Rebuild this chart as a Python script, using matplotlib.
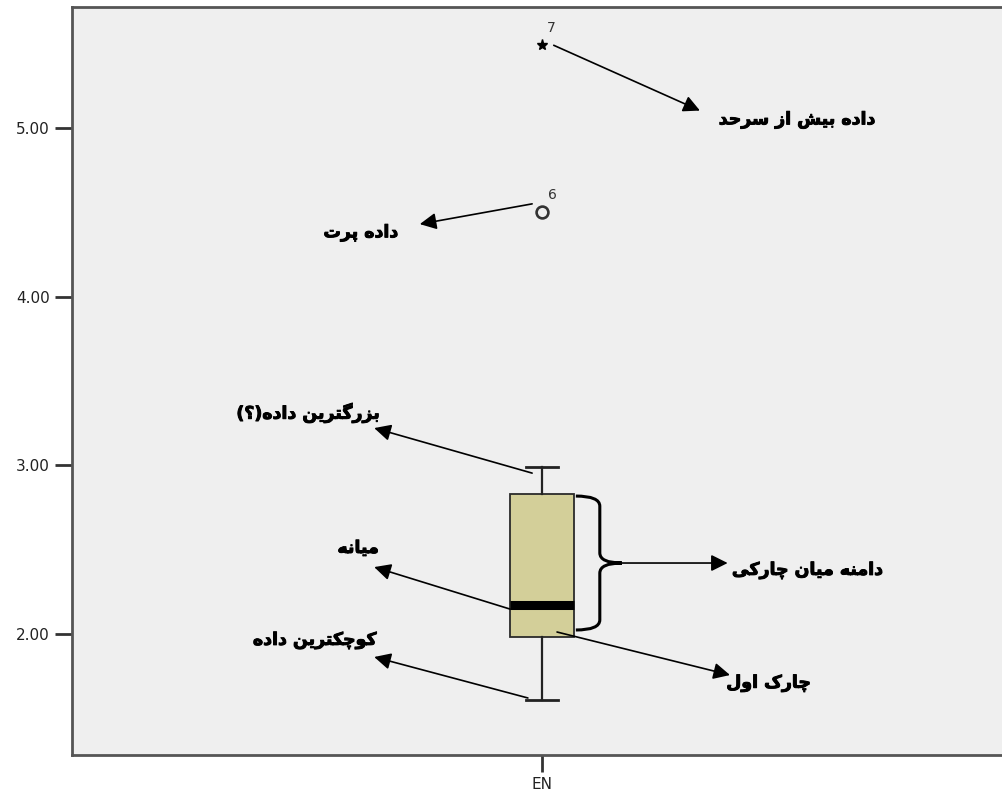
import matplotlib
matplotlib.use("Agg")
import matplotlib.pyplot as plt
import matplotlib.patheffects as pe
from matplotlib.path import Path
from matplotlib.patches import PathPatch

# values
categories = ["EN"]
q1 = [1.98]
median = [2.17]
q3 = [2.83]
whisker_low = [1.61]
whisker_high = [2.99]
outlier_values = [4.50]
outlier_ids = ["6"]
extreme_values = [5.49]
extreme_ids = ["7"]
y_ticks = [2.0, 3.0, 4.0, 5.0]

label_extreme = "داده بیش از سرحد"
label_outlier = "داده پرت"
label_max = "بزرگترین داده(؟)"
label_median = "میانه"
label_min = "کوچکترین داده"
label_iqr = "دامنه میان چارکی"
label_q1 = "چارک اول"

# matplotlib has no arabic shaping, so pick presentation forms by hand
FORMS = {
    "ا": ("\uFE8D", "\uFE8E"),
    "د": ("\uFEA9", "\uFEAA"),
    "ر": ("\uFEAD", "\uFEAE"),
    "ز": ("\uFEAF", "\uFEB0"),
    "و": ("\uFEED", "\uFEEE"),
    "ب": ("\uFE8F", "\uFE90", "\uFE91", "\uFE92"),
    "پ": ("\uFB56", "\uFB57", "\uFB58", "\uFB59"),
    "ت": ("\uFE95", "\uFE96", "\uFE97", "\uFE98"),
    "چ": ("\uFB7A", "\uFB7B", "\uFB7C", "\uFB7D"),
    "ح": ("\uFEA1", "\uFEA2", "\uFEA3", "\uFEA4"),
    "س": ("\uFEB1", "\uFEB2", "\uFEB3", "\uFEB4"),
    "ش": ("\uFEB5", "\uFEB6", "\uFEB7", "\uFEB8"),
    "ک": ("\uFB8E", "\uFB8F", "\uFB90", "\uFB91"),
    "گ": ("\uFB92", "\uFB93", "\uFB94", "\uFB95"),
    "ل": ("\uFEDD", "\uFEDE", "\uFEDF", "\uFEE0"),
    "م": ("\uFEE1", "\uFEE2", "\uFEE3", "\uFEE4"),
    "ن": ("\uFEE5", "\uFEE6", "\uFEE7", "\uFEE8"),
    "ه": ("\uFEE9", "\uFEEA", "\uFEEB", "\uFEEC"),
    "ی": ("\uFBFC", "\uFBFD", "\uFBFE", "\uFBFF"),
}


def fa(s):
    s = s.replace("\u064A", "\u06CC").replace("\u0643", "\u06A9")
    out = []
    for i, c in enumerate(s):
        if c not in FORMS:
            out.append(c)
            continue
        f = FORMS[c]
        prev = s[i - 1] if i > 0 else ""
        nxt = s[i + 1] if i + 1 < len(s) else ""
        jp = prev in FORMS and len(FORMS[prev]) == 4
        jn = len(f) == 4 and nxt in FORMS
        if jp and jn:
            out.append(f[3])
        elif jp:
            out.append(f[1])
        elif jn:
            out.append(f[2])
        else:
            out.append(f[0])
    vis = "".join(reversed(out))
    return vis.translate(str.maketrans("()", ")("))


fig = plt.figure(figsize=(10.02, 7.91), dpi=100)
ax = fig.add_axes([72 / 1002, 36 / 791, 940 / 1002, 748 / 791])
ax.set_facecolor("#efefef")

stats = [dict(med=median[i], q1=q1[i], q3=q3[i], whislo=whisker_low[i],
              whishi=whisker_high[i], fliers=[], label=categories[i])
         for i in range(len(categories))]
pos = list(range(len(categories)))
ax.bxp(stats, positions=pos, widths=0.136, capwidths=0.066, patch_artist=True,
       showfliers=False,
       boxprops=dict(facecolor="#d3cf99", edgecolor="#2a2a2a", linewidth=1.3),
       medianprops=dict(color="black", linewidth=6.5, solid_capstyle="butt"),
       whiskerprops=dict(color="#222222", linewidth=1.6),
       capprops=dict(color="#222222", linewidth=2.0))

ax.plot(pos, outlier_values, "o", ms=8.5, mfc="none", mec="#333333", mew=1.9)
ax.plot(pos, extreme_values, "*", ms=8, color="black")
for i in pos:
    ax.text(i + 0.022, outlier_values[i] + 0.1, outlier_ids[i], fontsize=10,
            color="#333333", ha="center", va="center", family="Liberation Sans Narrow")
    ax.text(i + 0.02, extreme_values[i] + 0.1, extreme_ids[i], fontsize=10,
            color="#333333", ha="center", va="center", family="Liberation Sans Narrow")

ax.set_xlim(-1, 1)
ax.set_ylim(1.283, 5.717)
ax.set_yticks(y_ticks)
ax.set_yticklabels([f"{v:.2f}" for v in y_ticks])
ax.set_xticks(pos)
ax.set_xticklabels(categories)
ax.tick_params(axis="both", length=12, width=2, color="#333333", labelsize=11,
               labelcolor="#222222", pad=4)
for side in ["left", "bottom", "top"]:
    ax.spines[side].set_color("#555555")
    ax.spines[side].set_linewidth(2)
ax.spines["right"].set_visible(False)

arrow = dict(arrowstyle="-|>", color="black", lw=1.2, mutation_scale=25,
             shrinkA=0, shrinkB=0)
text_kw = dict(fontsize=12.5, fontweight="bold", va="center",
               family=["DejaVu Sans"],
               path_effects=[pe.withStroke(linewidth=0.7, foreground="black")])

# (tail, head, text anchor, alignment, text)
notes = [
    ((0.025, extreme_values[0]), (0.336, 5.103), (0.376, 5.05), "left", label_extreme),
    ((-0.021, outlier_values[0] + 0.05), (-0.26, 4.43), (-0.306, 4.38), "right", label_outlier),
    ((-0.021, whisker_high[0] - 0.036), (-0.357, 3.221), (-0.345, 3.31), "right", label_max),
    ((-0.068, median[0] - 0.022), (-0.357, 2.397), (-0.347, 2.51), "right", label_median),
    ((-0.03, whisker_low[0] + 0.011), (-0.357, 1.864), (-0.351, 1.964), "right", label_min),
    ((0.032, q1[0] + 0.032), (0.40, 1.757), (0.392, 1.71), "left", label_q1),
]
for tail, head, tpos, align, txt in notes:
    ax.annotate("", xy=head, xytext=tail, arrowprops=arrow)
    ax.text(tpos[0], tpos[1], fa(txt), ha=align, **text_kw)

# curly brace for the interquartile range
top = q3[0] - 0.012
bot = q1[0] + 0.044
mid = (top + bot) / 2
x0, x1, x2 = 0.072, 0.123, 0.170
c = 0.06
verts = [(x0, top), (x1, top), (x1, top - c), (x1, mid + c), (x1, mid), (x2, mid),
         (x2, mid), (x1, mid), (x1, mid - c), (x1, bot + c), (x1, bot), (x0, bot)]
codes = [Path.MOVETO, Path.CURVE3, Path.CURVE3, Path.LINETO, Path.CURVE3, Path.CURVE3,
         Path.MOVETO, Path.CURVE3, Path.CURVE3, Path.LINETO, Path.CURVE3, Path.CURVE3]
ax.add_patch(PathPatch(Path(verts, codes), fill=False, lw=2.2, edgecolor="black"))
ax.annotate("", xy=(0.395, mid), xytext=(x2, mid), arrowprops=arrow)
ax.text(0.404, mid - 0.042, fa(label_iqr), ha="left", **text_kw)

fig.savefig("out.png", dpi=100, facecolor="white")
